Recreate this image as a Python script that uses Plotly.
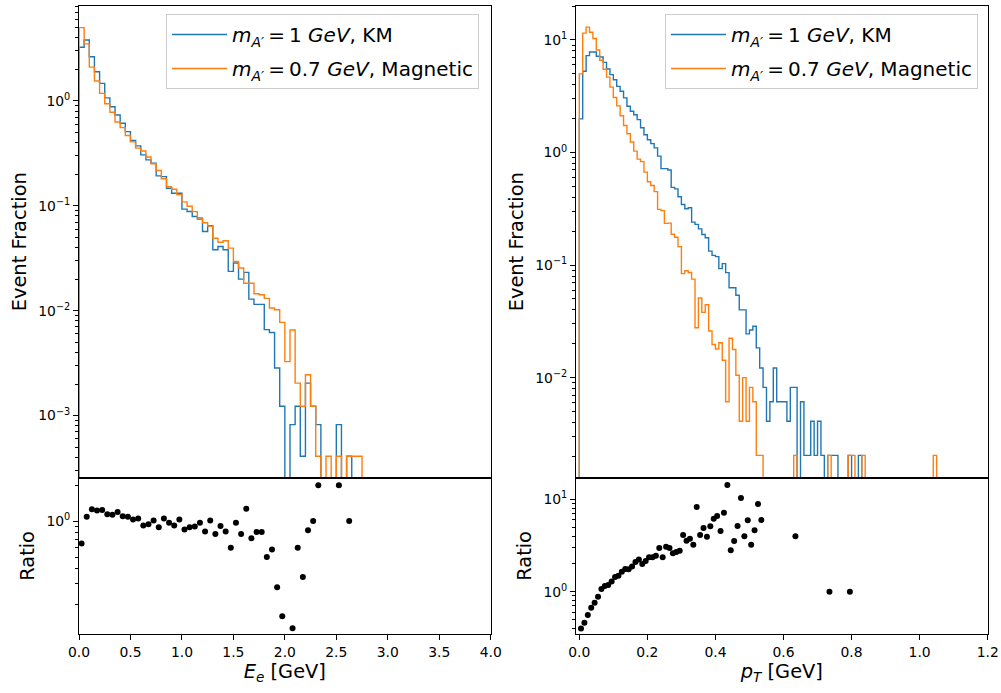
import plotly.graph_objects as go

# ---------------- data ----------------
# electron energy histogram, bin width 0.05 GeV, starting at 0
ee_bin_width = 0.05
ee_km = [3.25, 3.81, 2.64, 1.90, 1.47, 1.07, 0.88, 0.735, 0.613, 0.51,
         0.419, 0.373, 0.306, 0.274, 0.255, 0.193, 0.19, 0.147, 0.132, 0.132,
         0.093, 0.0883, 0.079, 0.0747, 0.0569, 0.0645, 0.0381, 0.041, 0.0381, 0.0237,
         0.0285, 0.020, 0.0232, 0.0129, 0.0115, 0.0115, 0.0066, 0.0062, 0.00284, 0.00123,
         0, 0.00082, 0.00123, 0.00041, 0.00204, 0.00123, 0.00082, 0, 0, 0,
         0.00082, 0, 0.00041, 0, 0]
ee_mag = [5.0, 3.5, 2.1, 1.55, 1.18, 0.94, 0.78, 0.63, 0.557, 0.468,
          0.407, 0.355, 0.333, 0.292, 0.252, 0.217, 0.181, 0.152, 0.144, 0.128,
          0.109, 0.099, 0.088, 0.077, 0.069, 0.064, 0.049, 0.045, 0.0465, 0.0395,
          0.0295, 0.0255, 0.0183, 0.0183, 0.0145, 0.0142, 0.0131, 0.0106, 0.0102, 0.00774,
          0.00327, 0.00654, 0.00204, 0.00123, 0.00245, 0.00123, 0.00041, 0, 0.00041, 0,
          0.00041, 0, 0.00041, 0.00041, 0.00041]
ee_ratio = [0.65, 1.09, 1.26, 1.23, 1.24, 1.14, 1.13, 1.19, 1.10, 1.09,
            1.03, 1.05, 0.92, 0.94, 1.01, 0.89, 1.05, 0.97, 0.92, 1.03,
            0.85, 0.89, 0.90, 0.97, 0.82, 1.01, 0.78, 0.91, 0.82, 0.60,
            0.97, 0.78, 1.27, 0.72, 0.81, 0.81, 0.50, 0.58, 0.28, 0.16,
            None, 0.127, 0.60, 0.34, 0.84, 1.0, 2.0, None, None, None,
            2.0, None, 1.0, None, None]

# transverse momentum histogram, bin width 0.01 GeV, starting at 0
pt_bin_width = 0.01
pt_km = [1.99, 5.27, 7.26, 7.82, 7.82, 7.16, 7.06, 6.33, 5.52, 4.92,
         4.44, 3.87, 3.50, 3.06, 2.58, 2.33, 2.17, 1.96, 1.66, 1.44,
         1.30, 1.20, 1.10, 0.93, 0.72, 0.72, 0.70, 0.49, 0.476, 0.405,
         0.346, 0.317, 0.323, 0.241, 0.23, 0.21, 0.187, 0.175, 0.133, 0.122,
         0.119, 0.093, 0.103, 0.0857, 0.063, 0.063, 0.054, 0.04, 0.04, 0.0245,
         0.0265, 0.0286, 0.0184, 0.0122, 0.0082, 0.0041, 0.0061, 0.0122, 0.0061, 0.0061,
         0.0061, 0.0041, 0.0082, 0.0082, 0, 0.0061, 0.00204, 0.00204, 0.0041, 0.00204,
         0.0041, 0.00204, 0, 0.00204, 0.00204, 0.00204, 0, 0, 0, 0.00204,
         0, 0, 0.00204, 0]
pt_mag = [5.0, 11.5, 13.0, 11.7, 10.3, 8.14, 6.6, 5.5, 4.68, 3.81,
          3.08, 2.60, 2.12, 1.74, 1.47, 1.24, 1.03, 0.875, 0.83, 0.67,
          0.55, 0.51, 0.45, 0.313, 0.305, 0.235, 0.236, 0.188, 0.177, 0.146,
          0.084, 0.089, 0.086, 0.075, 0.0278, 0.051, 0.038, 0.0444, 0.026, 0.0197,
          0.018, 0.0204, 0.0143, 0.0061, 0.0224, 0.0178, 0.0105, 0.0041, 0.010, 0.0041,
          0.0082, 0.0061, 0.00204, 0.00204, 0, 0, 0, 0, 0, 0,
          0, 0, 0, 0.00204, 0, 0, 0, 0, 0, 0,
          0, 0, 0, 0.00204, 0, 0, 0, 0, 0, 0.00204,
          0.00204, 0, 0, 0.00204, 0, 0, 0, 0, 0, 0,
          0, 0, 0, 0, 0, 0, 0, 0, 0, 0,
          0, 0, 0, 0, 0.00204]
pt_ratio = [0.40, 0.46, 0.56, 0.67, 0.76, 0.88, 1.07, 1.15, 1.18, 1.29,
            1.44, 1.49, 1.65, 1.76, 1.75, 1.88, 2.10, 2.24, 2.0, 2.15,
            2.36, 2.36, 2.45, 2.97, 2.36, 3.07, 2.97, 2.61, 2.69, 2.78,
            4.11, 3.57, 3.75, 3.23, 8.27, 4.11, 4.90, 3.94, 5.11, 6.18,
            6.61, 4.55, 7.18, 14.3, 2.81, 3.54, 5.15, 10.4, 3.98, 5.94,
            3.23, 4.63, 8.9, 6.0, None, None, None, None, None, None,
            None, None, None, 4.0, None, None, None, None, None, None,
            None, None, None, 1.0, None, None, None, None, None, 1.0]

label_km = "<i>m</i><sub><i>A′</i></sub>\u2009=\u20091 <i>GeV</i>, KM"
label_mag = "<i>m</i><sub><i>A′</i></sub>\u2009=\u20090.7 <i>GeV</i>, Magnetic"

BLUE = "#1f77b4"
ORANGE = "#ff7f0e"
FLOOR = 1e-9
FONT = "DejaVu Sans"


def step_xy(values, bw):
    n = len(values)
    edges = [i * bw for i in range(n + 1)]
    vals = [v if v > 0 else FLOOR for v in values]
    x = [edges[0]] + edges[:n] + [edges[n], edges[n]]
    y = [FLOOR] + vals + [vals[-1], FLOOR]
    return x, y


def centers(values, bw):
    xs, ys = [], []
    for i, v in enumerate(values):
        if v is not None:
            xs.append((i + 0.5) * bw)
            ys.append(v)
    return xs, ys


fig = go.Figure()

# top-left histograms
for vals, col, name, grp in [(ee_km, BLUE, label_km, "a"), (ee_mag, ORANGE, label_mag, "b")]:
    x, y = step_xy(vals, ee_bin_width)
    fig.add_trace(go.Scatter(x=x, y=y, mode="lines", line=dict(color=col, width=1.4, shape="hv"),
                             name=name, xaxis="x", yaxis="y", legend="legend", legendgroup="L" + grp))
# top-right histograms
for vals, col, name, grp in [(pt_km, BLUE, label_km, "a"), (pt_mag, ORANGE, label_mag, "b")]:
    x, y = step_xy(vals, pt_bin_width)
    fig.add_trace(go.Scatter(x=x, y=y, mode="lines", line=dict(color=col, width=1.4, shape="hv"),
                             name=name, xaxis="x3", yaxis="y3", legend="legend2", legendgroup="R" + grp))
# ratios
rx, ry = centers(ee_ratio, ee_bin_width)
fig.add_trace(go.Scatter(x=rx, y=ry, mode="markers", marker=dict(color="black", size=6),
                         showlegend=False, xaxis="x2", yaxis="y2"))
rx, ry = centers(pt_ratio, pt_bin_width)
fig.add_trace(go.Scatter(x=rx, y=ry, mode="markers", marker=dict(color="black", size=6),
                         showlegend=False, xaxis="x4", yaxis="y4"))

W, H = 1001, 693
xl = [79 / W, 490.7 / W]
xr = [576 / W, 987.7 / W]
ytop = [(H - 477.5) / H, (H - 6) / H]
ybot = [(H - 634.3) / H, (H - 477.5) / H]

tickfont = dict(family=FONT, size=13.9, color="black")
titlefont = dict(family=FONT, size=19.4, color="black")


def minor_vals(lo, hi):
    out = []
    for d in range(lo, hi + 1):
        for m in range(2, 10):
            out.append(m * 10.0 ** d)
    return out


def sup(e):
    s = str(e).replace("-", "−")
    return "10<sup>" + s + "</sup>"


common_axis = dict(showline=True, linecolor="black", linewidth=1.1, mirror=True,
                   showgrid=False, zeroline=False, tickfont=tickfont, automargin=False,
                   ticks="outside", ticklen=4.9, tickwidth=1.1, tickcolor="black")


def logy(domain, rng, exps, title, anchor, minlo, minhi, standoff):
    d = dict(common_axis)
    d.update(type="log", domain=domain, range=rng, anchor=anchor,
             tickmode="array", tickvals=[10.0 ** e for e in exps], ticktext=[sup(e) for e in exps],
             minor=dict(ticks="outside", ticklen=2.8, tickwidth=0.8, tickcolor="black",
                        tickmode="array", tickvals=minor_vals(minlo, minhi), showgrid=False),
             title=dict(text=title, font=titlefont, standoff=standoff))
    return d


legend_common = dict(yanchor="top", xanchor="right", bgcolor="rgba(255,255,255,0.8)",
                     bordercolor="#cccccc", borderwidth=1, itemwidth=55, tracegroupgap=5,
                     traceorder="grouped",
                     font=dict(family=FONT, size=20, color="black"))

layout = dict(
    width=W, height=H, margin=dict(l=0, r=0, t=0, b=0),
    paper_bgcolor="white", plot_bgcolor="white",
    font=dict(family=FONT, color="black"),
    xaxis=dict(common_axis, domain=xl, range=[0, 4], anchor="y", showticklabels=False, ticks=""),
    yaxis=logy(ytop, [-3.59, 0.905], [-3, -2, -1, 0], "Event Fraction", "x", -4, 0, 6),
    xaxis2=dict(common_axis, domain=xl, range=[0, 4], anchor="y2",
                tickvals=[0, 0.5, 1, 1.5, 2, 2.5, 3, 3.5, 4],
                ticktext=["0.0", "0.5", "1.0", "1.5", "2.0", "2.5", "3.0", "3.5", "4.0"],
                title=dict(text="<i>E</i><sub><i>e</i></sub> [GeV]", font=titlefont, standoff=4)),
    yaxis2=logy(ybot, [-0.947, 0.365], [0], "Ratio", "x2", -1, 0, 6),
    xaxis3=dict(common_axis, domain=xr, range=[-0.0097, 1.2], anchor="y3", showticklabels=False,
                ticks=""),
    yaxis3=logy(ytop, [-2.887, 1.302], [-2, -1, 0, 1], "Event Fraction", "x3", -3, 1, 6),
    xaxis4=dict(common_axis, domain=xr, range=[-0.0097, 1.2], anchor="y4",
                tickvals=[0, 0.2, 0.4, 0.6, 0.8, 1.0, 1.2],
                ticktext=["0.0", "0.2", "0.4", "0.6", "0.8", "1.0", "1.2"],
                title=dict(text="<i>p</i><sub><i>T</i></sub> [GeV]", font=titlefont, standoff=4)),
    yaxis4=logy(ybot, [-0.462, 1.238], [0, 1], "Ratio", "x4", -1, 1, 6),
    legend=dict(legend_common, x=479 / W, y=1 - 14 / H),
    legend2=dict(legend_common, x=978 / W, y=1 - 14 / H),
)
fig.update_layout(**layout)
fig.write_html("out.html")
